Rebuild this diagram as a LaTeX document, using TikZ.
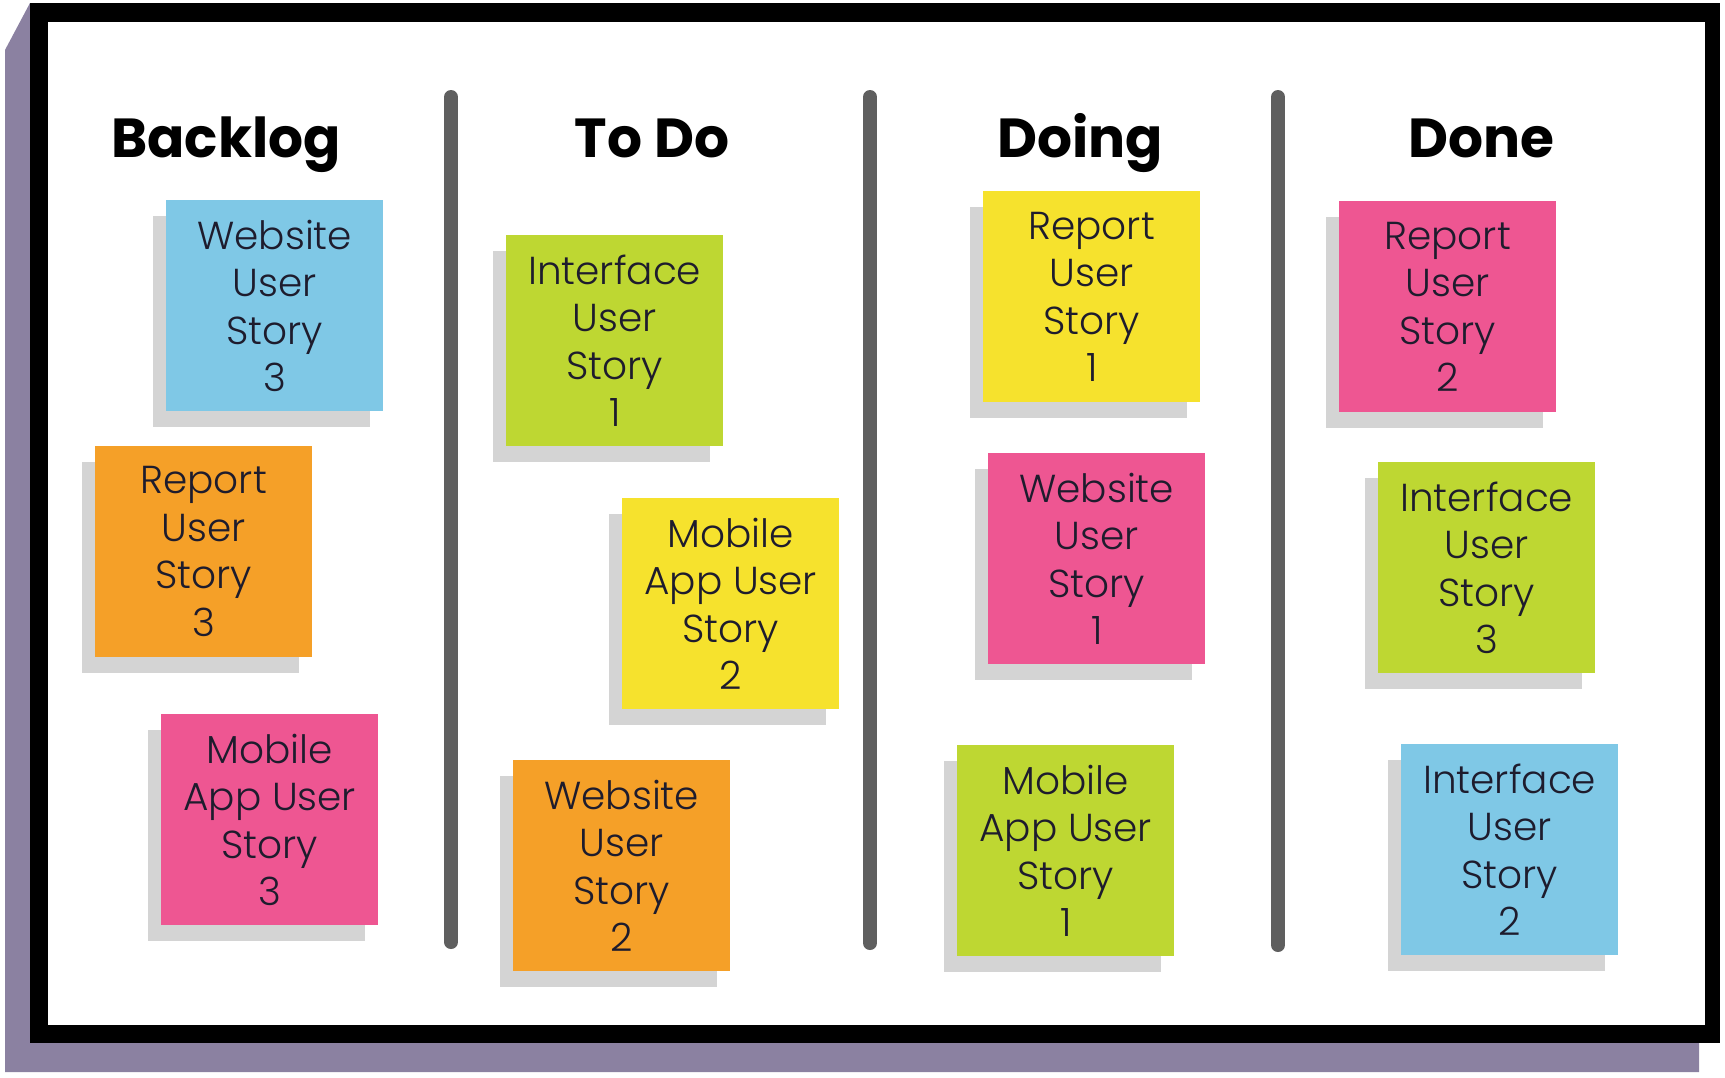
\documentclass[tikz,border=0pt]{standalone}
\usepackage{fontspec}
\usepackage{tikz}
\usetikzlibrary{shadows}
\usepackage{xcolor}
\newfontfamily\notefont{Poppins Light}
\newfontfamily\headfont{Poppins}
\definecolor{boardpurple}{RGB}{139,129,161}
\definecolor{noteblue}{RGB}{127,200,230}
\definecolor{noteorange}{RGB}{245,160,40}
\definecolor{notepink}{RGB}{238,86,146}
\definecolor{notegreen}{RGB}{190,215,50}
\definecolor{noteyellow}{RGB}{246,226,45}
\definecolor{shadowgray}{RGB}{212,212,212}
\definecolor{dividergray}{RGB}{95,95,95}
\definecolor{notetext}{RGB}{30,28,45}

\begin{document}
\begin{tikzpicture}[x=1pt,y=-1pt,
  note/.style={minimum width=217pt,minimum height=211pt,inner sep=0pt,anchor=north west,
    align=center,text=notetext,font=\notefont\fontsize{39}{47.5}\selectfont,
    drop shadow={shadow xshift=-13pt,shadow yshift=-16pt,fill=shadowgray,opacity=1}},
  heading/.style={anchor=base,font=\headfont\bfseries\fontsize{55}{55}\selectfont},
  divider/.style={draw=dividergray,line width=14pt,line cap=round}]
\useasboundingbox (0,0) rectangle (1725,1077);
% board
\fill[boardpurple] (5,50) -- (30,3) -- (1699,3) -- (1699,1072) -- (5,1072) -- cycle;
\fill[black] (30,3) rectangle (1720,1043);
\fill[white] (48,22) rectangle (1705,1025);
\coordinate (d1a) at (451,97);  \coordinate (d1b) at (451,942);
\coordinate (d2a) at (870,97);  \coordinate (d2b) at (870,943);
\coordinate (d3a) at (1278,97); \coordinate (d3b) at (1278,945);
\draw[divider] (d1a) -- (d1b);
\draw[divider] (d2a) -- (d2b);
\draw[divider] (d3a) -- (d3b);
% headings
\node[heading] (backlog) at (226,157) {Backlog};
\node[heading] (todo) at (652,157) {To Do};
\node[heading] (doing) at (1080,157) {Doing};
\node[heading] (done) at (1481,157) {Done};
% backlog
\node[note,fill=noteblue] (web3) at (166,200) {Website\\User\\Story\\3};
\node[note,fill=noteorange] (rep3) at (95,446) {Report\\User\\Story\\3};
\node[note,fill=notepink] (app3) at (161,714) {Mobile\\App User\\Story\\3};
% to do
\node[note,fill=notegreen] (int1) at (506,235) {Interface\\User\\Story\\1};
\node[note,fill=noteyellow] (app2) at (622,498) {Mobile\\App User\\Story\\2};
\node[note,fill=noteorange] (web2) at (513,760) {Website\\User\\Story\\2};
% doing
\node[note,fill=noteyellow] (rep1) at (983,191) {Report\\User\\Story\\1};
\node[note,fill=notepink] (web1) at (988,453) {Website\\User\\Story\\1};
\node[note,fill=notegreen] (app1) at (957,745) {Mobile\\App User\\Story\\1};
% done
\node[note,fill=notepink] (rep2) at (1339,201) {Report\\User\\Story\\2};
\node[note,fill=notegreen] (int3) at (1378,462) {Interface\\User\\Story\\3};
\node[note,fill=noteblue] (int2) at (1401,744) {Interface\\User\\Story\\2};
\end{tikzpicture}
\end{document}
